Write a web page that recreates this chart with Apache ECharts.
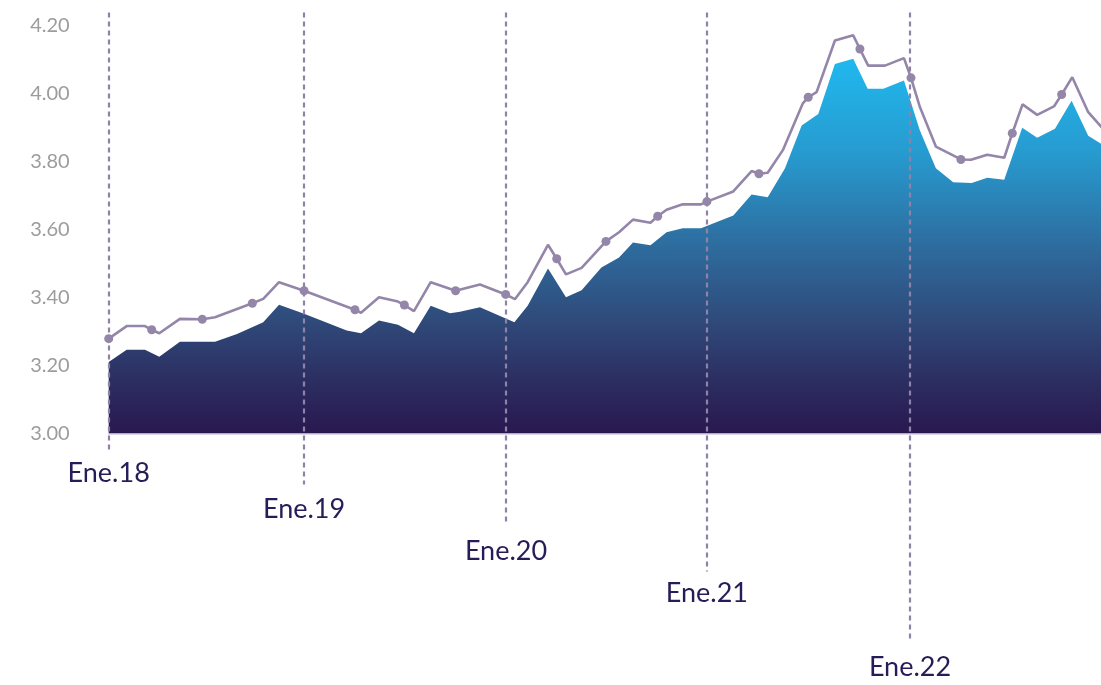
<!DOCTYPE html>
<html>
<head>
<meta charset="utf-8">
<script src="https://cdn.jsdelivr.net/npm/echarts@6/dist/echarts.min.js"></script>
<style>
html,body{margin:0;padding:0;background:#fff;}
#chart{width:1101px;height:685px;}
</style>
</head>
<body>
<div id="chart"></div>
<script>
// ---- data (x = months from Ene.18) ----
const lineT = [0, 1.07, 2.16, 2.56, 3.01, 4.24, 5.57, 6.33, 8.55, 9.20, 10.14, 11.63,
  14.66, 15.02, 16.09, 17.22, 17.60, 18.17, 19.17, 20.65, 22.10, 23.63,
  24.18, 24.94, 26.15, 26.67, 27.22, 28.15, 29.60, 30.38, 31.21, 32.25, 32.68, 33.21, 34.17, 35.26, 35.61,
  37.18, 38.27, 38.71, 39.23, 40.15, 41.31, 41.64, 42.14, 43.23, 44.32, 44.72, 45.21, 46.21, 47.34, 47.76,
  48.29, 49.24, 50.73, 51.33, 52.30, 53.31, 53.79, 54.40, 55.27, 56.27, 56.73, 57.36, 58.31, 59.30];
const lineV = [3.279, 3.316, 3.316, 3.305, 3.295, 3.337, 3.336, 3.342, 3.383, 3.396, 3.445, 3.420,
  3.364, 3.355, 3.401, 3.388, 3.378, 3.360, 3.445, 3.420, 3.438, 3.409,
  3.395, 3.445, 3.555, 3.514, 3.468, 3.487, 3.565, 3.592, 3.629, 3.620, 3.639, 3.658, 3.674, 3.674, 3.682,
  3.712, 3.772, 3.764, 3.767, 3.835, 3.970, 3.989, 4.004, 4.156, 4.171, 4.131, 4.082, 4.082, 4.104, 4.046,
  3.960, 3.844, 3.806, 3.805, 3.820, 3.811, 3.883, 3.968, 3.937, 3.962, 3.997, 4.048, 3.945, 3.890];
const lineMarkerIdx = [0, 3, 6, 8, 11, 12, 16, 19, 21, 25, 28, 32, 36, 39, 43, 47, 51, 54, 58, 62];

const areaT = [0, 1.07, 2.16, 3.01, 4.24, 6.33, 7.64, 9.20, 10.14, 11.63,
  14.17, 15.02, 16.09, 17.22, 18.17, 19.17, 20.32, 20.91, 22.10,
  24.15, 24.94, 26.15, 27.22, 28.15, 29.33, 30.38, 31.21, 32.25, 33.21, 34.17, 35.26,
  37.18, 38.27, 39.23, 40.26, 41.25, 42.24, 43.23, 44.32, 45.18, 46.11, 47.34,
  48.29, 49.24, 50.27, 51.37, 52.30, 53.31, 54.38, 55.27, 56.33, 57.32, 58.31, 59.30];
const areaV = [3.210, 3.246, 3.246, 3.226, 3.270, 3.270, 3.293, 3.327, 3.379, 3.352,
  3.303, 3.295, 3.332, 3.320, 3.295, 3.376, 3.354, 3.358, 3.371,
  3.327, 3.376, 3.485, 3.401, 3.421, 3.488, 3.518, 3.562, 3.554, 3.592, 3.604, 3.604,
  3.641, 3.703, 3.695, 3.780, 3.906, 3.940, 4.087, 4.102, 4.014, 4.014, 4.038,
  3.891, 3.780, 3.739, 3.737, 3.752, 3.746, 3.899, 3.870, 3.896, 3.979, 3.876, 3.845];

const yearTickPos = [0, 11.63, 23.65, 35.61, 47.70];
const yearLabels = ['Ene.18', 'Ene.19', 'Ene.20', 'Ene.21', 'Ene.22'];

const Y_MIN = 3.0, Y_MAX = 4.2, Y_STEP = 0.2;
const X_MIN = 0, X_MAX = 59.07;

// ---- layout / style constants ----
const LINE_DROP = [20, 51, 91, 138, 208];   // px below axis where dashed line ends
const LABEL_DROP = [40, 76, 118, 160, 234]; // px below axis for label centre
const FONT = 'Lato, "Noto Sans", sans-serif';

const lineData = lineT.map((t, i) => {
  const item = { value: [t, lineV[i]] };
  if (lineMarkerIdx.indexOf(i) >= 0) { item.symbol = 'circle'; item.symbolSize = 9; }
  return item;
});
const areaData = areaT.map((t, i) => [t, areaV[i]]);

const chart = echarts.init(document.getElementById('chart'), null, { renderer: 'canvas' });
chart.setOption({
  backgroundColor: '#ffffff',
  animation: false,
  grid: { left: 108.7, right: 0, top: 25.5, bottom: 251.5, containLabel: false },
  xAxis: {
    type: 'value', min: X_MIN, max: X_MAX,
    axisLine: { show: true, lineStyle: { color: '#d3cfdf', width: 1.5 } },
    axisTick: { show: false }, axisLabel: { show: false }, splitLine: { show: false }
  },
  yAxis: {
    type: 'value', min: Y_MIN, max: Y_MAX, interval: Y_STEP,
    axisLine: { show: false }, axisTick: { show: false }, splitLine: { show: false },
    axisLabel: {
      margin: 39, color: '#9c9c9c', fontSize: 20, fontFamily: FONT,
      formatter: v => v.toFixed(2)
    }
  },
  series: [
    {
      type: 'line', data: areaData, symbol: 'none', z: 1,
      lineStyle: { width: 0 },
      areaStyle: {
        origin: 'start', opacity: 1,
        color: new echarts.graphic.LinearGradient(0, 0, 0, 1, [
          { offset: 0, color: '#20b8ee' },
          { offset: 0.25, color: '#279bd0' },
          { offset: 0.5, color: '#2e6c9e' },
          { offset: 0.7, color: '#2f4a7a' },
          { offset: 0.85, color: '#2c2f62' },
          { offset: 1, color: '#291850' }
        ])
      }
    },
    {
      type: 'custom', z: 3, clip: false,
      data: yearTickPos.map(t => [t]),
      encode: { x: 0 },
      renderItem: function (params, api) {
        const i = params.dataIndex;
        const t = api.value(0);
        const base = api.coord([t, Y_MIN]);
        const top = api.coord([t, Y_MAX]);
        const x = Math.round(base[0]);
        return {
          type: 'group',
          children: [
            { type: 'line',
              shape: { x1: x, y1: top[1] - 13, x2: x, y2: base[1] + LINE_DROP[i] },
              style: { stroke: '#8e82a6', lineWidth: 2.2, lineDash: [5, 4] } },
            { type: 'text',
              style: { text: yearLabels[i], x: base[0], y: base[1] + LABEL_DROP[i],
                align: 'center', verticalAlign: 'middle',
                fontSize: 27, fontFamily: FONT, fill: '#281c58' } }
          ]
        };
      }
    },
    {
      type: 'line', data: lineData, z: 5,
      symbol: 'none', showSymbol: true, showAllSymbol: true,
      lineStyle: { color: '#9486a9', width: 2.6 },
      itemStyle: { color: '#9486a9' }
    }
  ]
});
</script>
</body>
</html>
